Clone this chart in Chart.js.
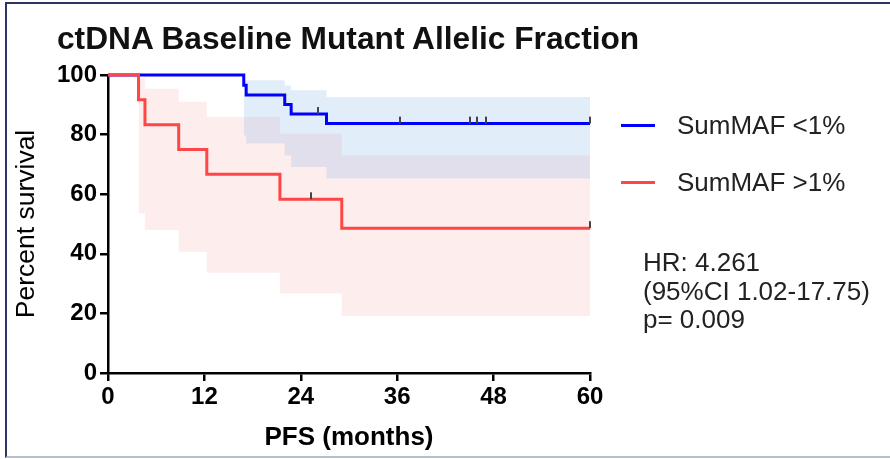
<!DOCTYPE html>
<html>
<head>
<meta charset="utf-8">
<script src="https://cdn.jsdelivr.net/npm/chart.js@4.4.1/dist/chart.umd.min.js"></script>
<style>
  body { margin: 0; background: #fff; font-family: "Liberation Sans", Arial, sans-serif; }
  #wrap { position: relative; width: 890px; height: 459px; overflow: hidden; background: #fff; }
  #frame { position: absolute; left: 5px; top: 2px; width: 900px; height: 452px;
           border-left: 2px solid #2d3663; border-top: 2px solid #2d3663; border-bottom: 2px solid #b4bfd0; }
  canvas { position: absolute; left: 0; top: 0; }
  .title { position: absolute; left: 57px; top: 20px; font-size: 31.7px; font-weight: bold; color: #111; line-height: 36px; white-space: nowrap; }
  .leg { position: absolute; left: 621px; width: 34px; height: 3px; }
  .legtxt { position: absolute; left: 677px; font-size: 26px; color: #222; line-height: 30px; white-space: nowrap; }
  .stats { position: absolute; left: 643px; top: 248px; font-size: 26px; color: #222; line-height: 28.5px; white-space: nowrap; }
</style>
</head>
<body>
<div id="wrap">
  <div id="frame"></div>
  <canvas id="myChart" width="890" height="459"></canvas>
  <div class="title">ctDNA Baseline Mutant Allelic Fraction</div>
  <div class="leg" style="top:124px;background:#0000ff"></div>
  <div class="legtxt" style="top:110px">SumMAF &lt;1%</div>
  <div class="leg" style="top:181px;background:#ff4646"></div>
  <div class="legtxt" style="top:167px">SumMAF &gt;1%</div>
  <div class="stats">HR: 4.261<br>(95%CI 1.02-17.75)<br>p= 0.009</div>
</div>
<script>
// SumMAF <1% (blue)
const blueTimes = [0, 16.9, 17.2, 22.0, 22.8, 27.2, 60];
const blueSurv = [100, 96.6, 93.3, 90.1, 86.9, 83.7, 83.7];
const blueCiTimes = [16.9, 17.2, 22.0, 22.8, 27.2, 60];
const blueUpper = [98.2, 98.2, 96.5, 94.9, 92.6, 92.6];
const blueLower = [79.7, 77.0, 73.0, 69.1, 65.3, 65.3];
const blueCensored = [26.2, 36.4, 45.0, 45.9, 47.0, 60];

// SumMAF >1% (red)
const redTimes = [0, 3.8, 4.6, 8.8, 12.3, 21.4, 29.1, 60];
const redSurv = [100, 91.7, 83.3, 75.0, 66.7, 58.3, 48.6, 48.6];
const redCiTimes = [3.8, 4.6, 8.8, 12.3, 21.4, 29.1, 60];
const redUpper = [98.8, 95.4, 91.0, 85.9, 80.3, 73.0, 73.0];
const redLower = [53.6, 48.0, 40.7, 33.6, 26.7, 19.1, 19.1];
const redCensored = [25.3, 60];

const xTicks = [0, 12, 24, 36, 48, 60];
const yTicks = [0, 20, 40, 60, 80, 100];

const BLUE = "#0000ff";
const RED = "#ff4646";
const FONT = "'Liberation Sans', Arial, sans-serif";

function pts(xs, ys) {
  return xs.map(function (x, i) { return { x: x, y: ys[i] }; });
}

// survival value of a step curve at time t
function survAt(times, surv, t) {
  var v = surv[0];
  for (var i = 0; i < times.length; i++) {
    if (times[i] <= t) v = surv[i];
  }
  return v;
}

function censorPts(cens, times, surv) {
  return cens.map(function (t) { return { x: t, y: survAt(times, surv, t) }; });
}

// small upward tick used for censored cases
var tick = document.createElement("canvas");
tick.width = 2;
tick.height = 16;
var tctx = tick.getContext("2d");
tctx.fillStyle = "#444";
tctx.fillRect(0, 1, 2, 7);

let ctx = document.getElementById("myChart").getContext("2d");

var myChart = new Chart(ctx, {
  type: "line",
  data: {
    datasets: [
      { // 0 blue censor ticks
        data: censorPts(blueCensored, blueTimes, blueSurv),
        showLine: false, pointStyle: tick, pointRadius: 4, pointHoverRadius: 0, clip: false,
      },
      { // 1 red censor ticks
        data: censorPts(redCensored, redTimes, redSurv),
        showLine: false, pointStyle: tick, pointRadius: 4, pointHoverRadius: 0, clip: false,
      },
      { // 2 red curve
        data: pts(redTimes, redSurv),
        stepped: "before", borderColor: RED, borderWidth: 3, pointRadius: 0, fill: false, clip: false,
      },
      { // 3 blue curve
        data: pts(blueTimes, blueSurv),
        stepped: "before", borderColor: BLUE, borderWidth: 3, pointRadius: 0, fill: false, clip: false,
      },
      { // 4 blue CI upper
        data: pts(blueCiTimes, blueUpper),
        stepped: "before", borderWidth: 0, borderColor: "rgba(0,0,0,0)", pointRadius: 0,
        fill: { target: 5 }, backgroundColor: "rgba(110,165,230,0.2)",
      },
      { // 5 blue CI lower
        data: pts(blueCiTimes, blueLower),
        stepped: "before", borderWidth: 0, borderColor: "rgba(0,0,0,0)", pointRadius: 0, fill: false,
      },
      { // 6 red CI upper
        data: pts(redCiTimes, redUpper),
        stepped: "before", borderWidth: 0, borderColor: "rgba(0,0,0,0)", pointRadius: 0,
        fill: { target: 7 }, backgroundColor: "rgba(245,90,90,0.11)",
      },
      { // 7 red CI lower
        data: pts(redCiTimes, redLower),
        stepped: "before", borderWidth: 0, borderColor: "rgba(0,0,0,0)", pointRadius: 0, fill: false,
      },
    ],
  },
  options: {
    responsive: false,
    animation: false,
    layout: { padding: { left: 0, top: 75, right: 300, bottom: 6 } },
    plugins: { legend: { display: false }, tooltip: { enabled: false }, title: { display: false } },
    scales: {
      x: {
        type: "linear", min: 0, max: 60,
        afterBuildTicks: function (scale) { scale.ticks = xTicks.map(function (v) { return { value: v }; }); },
        afterFit: function (scale) { scale.height = 80; },
        grid: { drawOnChartArea: false, drawTicks: true, tickLength: 8, color: "#000", lineWidth: 2.5 },
        border: { color: "#000", width: 2.5 },
        ticks: { color: "#000", padding: 2, maxRotation: 0, font: { family: FONT, size: 24, weight: "bold" } },
        title: { display: true, text: "PFS (months)", color: "#000", padding: { top: 0, bottom: 0 },
                 font: { family: FONT, size: 26, weight: "bold" } },
      },
      y: {
        type: "linear", min: 0, max: 100,
        afterBuildTicks: function (scale) { scale.ticks = yTicks.map(function (v) { return { value: v }; }); },
        afterFit: function (scale) { scale.width = 108; },
        grid: { drawOnChartArea: false, drawTicks: true, tickLength: 8, color: "#000", lineWidth: 2.5 },
        border: { color: "#000", width: 2.5 },
        ticks: { color: "#000", padding: 3, font: { family: FONT, size: 24, weight: "bold" } },
        title: { display: true, text: "Percent survival", color: "#000", padding: { top: 11, bottom: 0 },
                 font: { family: FONT, size: 26.5 } },
      },
    },
  },
});
</script>
</body>
</html>
